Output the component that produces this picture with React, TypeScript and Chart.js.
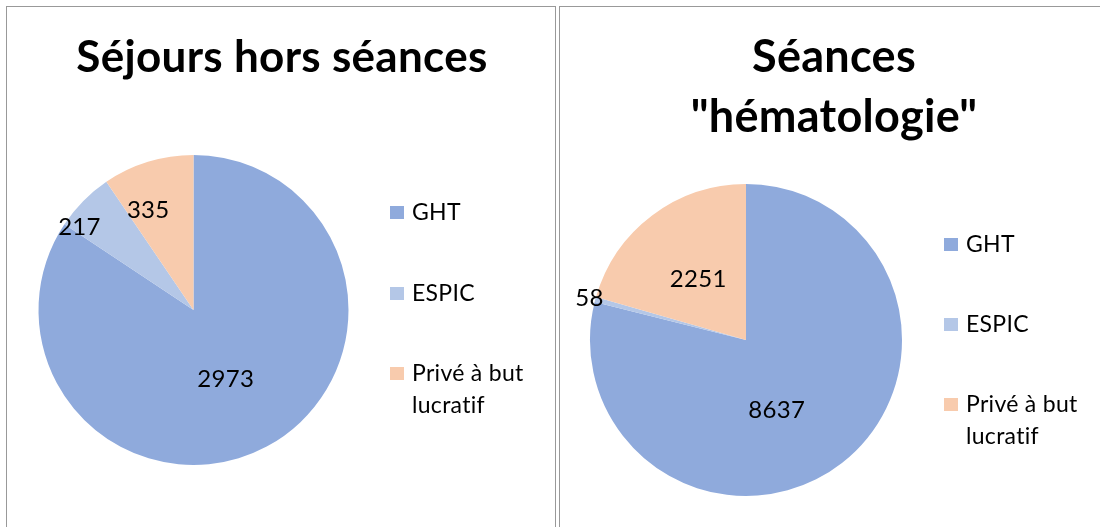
import React, { useEffect, useRef } from "react";
import { Chart, registerables } from "chart.js";

Chart.register(...registerables);

const categories = ["GHT", "ESPIC", "Privé à but lucratif"];
const legendLines = [["GHT"], ["ESPIC"], ["Privé à but", "lucratif"]];
const colors = ["#8FAADC", "#B4C7E7", "#F8CBAD"];

const sejoursTitle = ["Séjours hors séances"];
const sejoursValues = [2973, 217, 335];

const seancesTitle = ["Séances", "\"hématologie\""];
const seancesValues = [8637, 58, 2251];

const FONT = "Lato, 'Open Sans', sans-serif";

type PanelCfg = {
  title: string[];
  values: number[];
  padding: { left: number; right: number; top: number; bottom: number };
  titleX: number;
  titleSize: number;
  titleBaselines: number[];
  legendX: number;
  legendBaselines: number[][];
  labelRadius: number[];
  labelFrac: number[];
};

const overlayPlugin = {
  id: "overlay",
  afterDatasetsDraw(chart: any, _args: any, opts: any) {
    const cfg: PanelCfg = opts.cfg;
    const ctx = chart.ctx;
    ctx.save();
    try {
      (ctx as any).letterSpacing = "0.3px";
    } catch (e) {}
    // title
    ctx.fillStyle = "#000";
    ctx.font = `bold ${cfg.titleSize}px ${FONT}`;
    ctx.textAlign = "center";
    ctx.textBaseline = "alphabetic";
    cfg.title.forEach((t, i) => ctx.fillText(t, cfg.titleX, cfg.titleBaselines[i]));
    // data labels
    const meta = chart.getDatasetMeta(0);
    ctx.font = `24px ${FONT}`;
    meta.data.forEach((arc: any, i: number) => {
      const p = arc.getProps(["x", "y", "startAngle", "endAngle", "outerRadius"], true);
      const a = p.startAngle + (p.endAngle - p.startAngle) * cfg.labelFrac[i];
      const r = p.outerRadius * cfg.labelRadius[i];
      const x = p.x + Math.cos(a) * r;
      const y = p.y + Math.sin(a) * r;
      ctx.fillText(String(cfg.values[i]), x, y + 8.5);
    });
    // legend
    ctx.textAlign = "left";
    ctx.font = `23px ${FONT}`;
    legendLines.forEach((lines, i) => {
      const b = cfg.legendBaselines[i];
      ctx.fillStyle = colors[i];
      ctx.fillRect(cfg.legendX, b[0] - 14, 14, 13);
      ctx.fillStyle = "#000";
      lines.forEach((l, j) => ctx.fillText(l, cfg.legendX + 22, b[j]));
    });
    ctx.restore();
  },
};

function PiePanel({ cfg, left, width }: { cfg: PanelCfg; left: number; width: number }) {
  const ref = useRef<HTMLCanvasElement>(null);
  useEffect(() => {
    if (!ref.current) return;
    const chart = new Chart(ref.current, {
      type: "pie",
      data: {
        labels: categories,
        datasets: [
          {
            data: cfg.values,
            backgroundColor: colors,
            borderWidth: 0,
          },
        ],
      },
      options: {
        animation: false,
        responsive: false,
        layout: { padding: cfg.padding },
        plugins: {
          legend: { display: false },
          title: { display: false },
          tooltip: { enabled: false },
          overlay: { cfg },
        } as any,
      },
      plugins: [overlayPlugin],
    });
    return () => chart.destroy();
  }, []);
  return (
    <canvas
      ref={ref}
      width={width}
      height={527}
      style={{ position: "absolute", left, top: 0, width, height: 527 }}
    />
  );
}

const leftCfg: PanelCfg = {
  title: sejoursTitle,
  values: sejoursValues,
  padding: { left: 38, right: 208, top: 155, bottom: 62 },
  titleX: 282,
  titleSize: 44,
  titleBaselines: [72],
  legendX: 390,
  legendBaselines: [[220], [301], [381, 413]],
  labelRadius: [0.49, 0.91, 0.71],
  labelFrac: [0.51, 0.11, 0.29],
};

const rightCfg: PanelCfg = {
  title: seancesTitle,
  values: seancesValues,
  padding: { left: 33, right: 198, top: 184, bottom: 31 },
  titleX: 277,
  titleSize: 45,
  titleBaselines: [72, 132],
  legendX: 387,
  legendBaselines: [[252], [332], [412, 444]],
  labelRadius: [0.49, 1.04, 0.5],
  labelFrac: [0.55, 0.6, 0.49],
};

export default function App() {
  return (
    <div
      style={{
        position: "fixed",
        left: 0,
        top: 0,
        width: 1100,
        height: 527,
        background: "#fff",
        overflow: "hidden",
      }}
    >
      <div
        style={{
          position: "absolute",
          left: 6,
          top: 6,
          width: 548,
          height: 540,
          border: "1px solid #999",
        }}
      />
      <div
        style={{
          position: "absolute",
          left: 559,
          top: 6,
          width: 560,
          height: 540,
          border: "1px solid #999",
        }}
      />
      <PiePanel cfg={leftCfg} left={0} width={557} />
      <PiePanel cfg={rightCfg} left={557} width={543} />
    </div>
  );
}
